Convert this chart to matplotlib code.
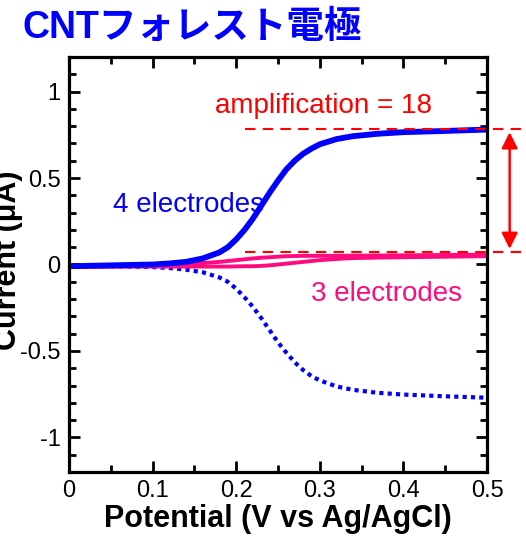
import numpy as np
import matplotlib.pyplot as plt
from matplotlib.ticker import MultipleLocator

plt.rcParams['font.family'] = ['Liberation Sans', 'Noto Sans CJK JP', 'DejaVu Sans']

# 電位 (V vs Ag/AgCl)
potential = [0.0, 0.05, 0.1, 0.12, 0.14, 0.16, 0.18, 0.19, 0.2, 0.21, 0.22, 0.23, 0.24,
             0.25, 0.26, 0.27, 0.28, 0.29, 0.3, 0.32, 0.34, 0.37, 0.4, 0.45, 0.5]
# 4 electrodes: 実線 (酸化) と点線 (還元)
four_ox = [-0.01, -0.005, 0.0, 0.006, 0.015, 0.035, 0.07, 0.10, 0.145, 0.20, 0.265, 0.34, 0.415,
           0.485, 0.55, 0.6, 0.64, 0.67, 0.695, 0.725, 0.742, 0.756, 0.765, 0.772, 0.78]
four_red = [-0.01, -0.01, -0.015, -0.02, -0.03, -0.045, -0.075, -0.10, -0.14, -0.19, -0.245,
            -0.31, -0.38, -0.45, -0.51, -0.565, -0.61, -0.645, -0.67, -0.705, -0.725, -0.742,
            -0.752, -0.762, -0.77]
# 3 electrodes: 2本のピンク線
three_a = [-0.01, -0.008, -0.004, 0.0, 0.003, 0.008, 0.015, 0.02, 0.025, 0.03, 0.035, 0.039,
           0.042, 0.045, 0.048, 0.049, 0.05, 0.05, 0.05, 0.05, 0.051, 0.052, 0.053, 0.055, 0.057]
three_b = [-0.015, -0.013, -0.012, -0.012, -0.012, -0.012, -0.012, -0.012, -0.011, -0.01,
           -0.01, -0.008, -0.005, 0.0, 0.005, 0.01, 0.015, 0.02, 0.025, 0.032, 0.037, 0.04,
           0.042, 0.045, 0.048]

top_level = 0.785
bottom_level = 0.07

blue = '#0000ff'
pink = '#ff0a7f'
red = '#ff0000'

fig = plt.figure(figsize=(5.26, 5.42), dpi=100)
ax = fig.add_axes([0.131, 0.129, 0.795, 0.766])

ax.plot(potential, four_red, color=blue, lw=3.0, ls=(0, (1, 1)))
ax.plot(potential, three_b, color=pink, lw=2.8)
ax.plot(potential, three_a, color=pink, lw=2.8)
ax.plot(potential, four_ox, color=blue, lw=4.2)

# 増幅率を示す破線と矢印
for lev in (top_level, bottom_level):
    ax.plot([0.21, 0.54], [lev, lev], color=red, lw=1.5, ls=(0, (5, 3.5)), clip_on=False)
ax.annotate('', xy=(0.527, bottom_level + 0.02), xytext=(0.527, top_level - 0.02),
            arrowprops=dict(arrowstyle='<|-|>', color=red, lw=1.8,
                            mutation_scale=24, shrinkA=0, shrinkB=0),
            annotation_clip=False)

ax.text(0.175, 0.915, 'amplification = 18', color=red, fontsize=20, va='center')
ax.text(0.053, 0.345, '4 electrodes', color=blue, fontsize=20, va='center')
ax.text(0.289, -0.17, '3 electrodes', color=pink, fontsize=20, va='center')

ax.set_xlim(0, 0.5)
ax.set_ylim(-1.2, 1.2)
ax.set_xticks([0, 0.1, 0.2, 0.3, 0.4, 0.5])
ax.set_xticklabels(['0', '0.1', '0.2', '0.3', '0.4', '0.5'], fontsize=17)
ax.set_yticks([-1, -0.5, 0, 0.5, 1])
ax.set_yticklabels(['-1', '-0.5', '0', '0.5', '1'], fontsize=17)
ax.xaxis.set_minor_locator(MultipleLocator(0.05))
ax.yaxis.set_minor_locator(MultipleLocator(0.1))
ax.tick_params(which='both', direction='in', top=True, right=True, width=2)
ax.tick_params(which='major', length=8, pad=6)
ax.tick_params(which='minor', length=5)
for s in ax.spines.values():
    s.set_linewidth(2.3)

ax.set_xlabel('Potential (V vs Ag/AgCl)', fontsize=22, fontweight='bold', labelpad=1)
ax.set_ylabel('Current (μA)', fontsize=22, fontweight='bold')
ax.yaxis.set_label_coords(-0.11, 0.51)

fig.text(0.042, 0.948, 'CNTフォレスト電極', color=blue, fontsize=27, fontweight='bold',
         va='center')

fig.savefig('out.png', dpi=100)
